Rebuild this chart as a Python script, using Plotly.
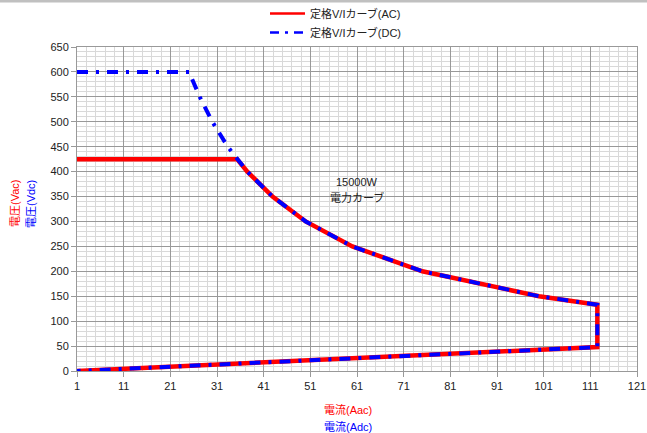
import plotly.graph_objects as go

# AC rated V/I curve (current A, voltage V)
ac_current = [1, 35.3, 37.5, 42.9, 50, 60, 75, 100, 112.5, 112.5, 1]
ac_voltage = [425, 425, 400, 350, 300, 250, 200, 150, 133, 48, 0]

# DC rated V/I curve
dc_current = [1, 25, 27.3, 30, 33.3, 35.3, 37.5, 42.9, 50, 60, 75, 100, 112.5, 112.5, 1]
dc_voltage = [600, 600, 550, 500, 450, 425, 400, 350, 300, 250, 200, 150, 133, 48, 0]

ac_name = "定格V/Iカーブ(AC)"
dc_name = "定格V/Iカーブ(DC)"
x_ticks = [1, 11, 21, 31, 41, 51, 61, 71, 81, 91, 101, 111, 121]

FONT = "Arial, Liberation Sans, Noto Sans CJK JP, sans-serif"
DC_DASH = "11px,8px,3px,8px"

fig = go.Figure()
fig.add_trace(go.Scatter(x=ac_current, y=ac_voltage, mode="lines", name=ac_name,
                         showlegend=False, legendgroup="ac",
                         line=dict(color="#ff0000", width=4.5)))
fig.add_trace(go.Scatter(x=dc_current, y=dc_voltage, mode="lines", name=dc_name,
                         showlegend=False, legendgroup="dc",
                         line=dict(color="#0000ff", width=4, dash=DC_DASH)))
# legend entries (thinner sample lines, as in the reference)
fig.add_trace(go.Scatter(x=[None], y=[None], mode="lines", name=ac_name, legendgroup="ac",
                         line=dict(color="#ff0000", width=2.5)))
fig.add_trace(go.Scatter(x=[None], y=[None], mode="lines", name=dc_name, legendgroup="dc",
                         line=dict(color="#0000ff", width=2.5, dash="9px,6px,3px,6px")))

L, R, T, B = 77, 10, 47, 62
W, H = 647, 433
pw, ph = W - L - R, H - T - B

def px(x):
    return (x - L) / pw

def py(y):
    return (H - B - y) / ph

def lbl(text, x, y, color, angle=0):
    return dict(x=px(x), y=py(y), xref="paper", yref="paper", text=text,
                xanchor="center", yanchor="middle", textangle=angle, showarrow=False,
                font=dict(family=FONT, size=11, color=color))

fig.update_layout(
    width=W, height=H,
    margin=dict(l=L, r=R, t=T, b=B, pad=0, autoexpand=False),
    paper_bgcolor="white", plot_bgcolor="white",
    font=dict(family=FONT, size=11, color="#222"),
    showlegend=True,
    legend=dict(x=px(265), xanchor="left", y=py(-1), yanchor="top", itemwidth=35,
                font=dict(family=FONT, size=11, color="#222"),
                bgcolor="rgba(0,0,0,0)", tracegroupgap=0),
    xaxis=dict(range=[1, 121], tickmode="array", tickvals=x_ticks, automargin=False,
               showgrid=True, gridcolor="#999999", gridwidth=1,
               minor=dict(dtick=2, tick0=1, showgrid=True, gridcolor="#d9d9d9", gridwidth=1),
               showline=True, linecolor="#999999", linewidth=1, mirror=True,
               ticks="outside", ticklen=5, tickcolor="#999999",
               zeroline=False, tickfont=dict(size=11, color="#222")),
    yaxis=dict(range=[0, 650], dtick=50, tick0=0, automargin=False,
               showgrid=True, gridcolor="#999999", gridwidth=1,
               minor=dict(dtick=10, showgrid=True, gridcolor="#d9d9d9", gridwidth=1),
               showline=True, linecolor="#999999", linewidth=1, mirror=True,
               ticks="outside", ticklen=5, tickcolor="#999999",
               zeroline=False, tickfont=dict(size=11, color="#222")),
    shapes=[dict(type="rect", xref="paper", yref="paper",
                 x0=px(0), x1=px(W), y0=py(2.5), y1=py(0),
                 fillcolor="#c0c0c0", line=dict(width=0), layer="above")],
    annotations=[
        dict(x=61, y=(H - B - 182) / ph * 650, xref="x", yref="y", text="15000W", showarrow=False,
             xanchor="center", yanchor="middle", font=dict(family=FONT, size=11, color="#222")),
        dict(x=61, y=(H - B - 197) / ph * 650, xref="x", yref="y", text="電力カーブ", showarrow=False,
             xanchor="center", yanchor="middle", font=dict(family=FONT, size=11, color="#222")),
        lbl("電流(Aac)", 348, 410, "#ff0000"),
        lbl("電流(Adc)", 348, 427, "#0000ff"),
        lbl("電圧(Vac)", 15, 204, "#ff0000", -90),
        lbl("電圧(Vdc)", 31, 204, "#0000ff", -90),
    ],
)

fig.write_html("out.html", config={"displayModeBar": False},
               post_script="document.body.style.margin='0px';")
